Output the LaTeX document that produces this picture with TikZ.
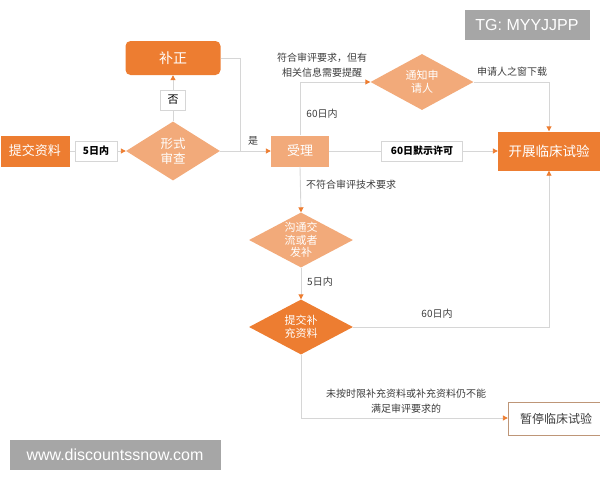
\documentclass[tikz,border=0pt]{standalone}
\usepackage{fontspec}
\newfontfamily\cjk{Noto Sans CJK SC}
\newfontfamily\wmfont{Liberation Sans}
\usetikzlibrary{arrows.meta,shapes.geometric}
\definecolor{darkor}{RGB}{237,125,49}
\definecolor{lightor}{RGB}{242,170,122}
\definecolor{linegray}{RGB}{214,214,214}
\definecolor{txtgray}{RGB}{60,60,60}
\definecolor{wmgray}{RGB}{166,166,166}
\definecolor{brownedge}{RGB}{190,150,120}
\tikzset{
  darkbox/.style={rectangle,fill=darkor,text=white,inner sep=0pt,font=\cjk\fontsize{13}{15}\selectfont},
  lightbox/.style={rectangle,fill=lightor,text=white,inner sep=0pt,font=\cjk\fontsize{13}{15}\selectfont},
  dia/.style={diamond,inner sep=0pt,aspect=1.8,text=white,align=center,font=\cjk\fontsize{11}{13.5}\selectfont},
  tagbox/.style={rectangle,draw=linegray,fill=white,inner sep=0pt,text=black,font=\cjk\bfseries\fontsize{10}{12}\selectfont},
  lbl/.style={inner sep=0pt,text=txtgray,align=center,font=\cjk\fontsize{10}{15}\selectfont},
  wmbox/.style={rectangle,fill=wmgray,text=white,inner sep=0pt,font=\wmfont\fontsize{16}{18}\selectfont},
  line/.style={draw=linegray,line width=0.9pt},
  arrowline/.style={line,-{Triangle[length=5pt,width=5pt,color=darkor]}}
}
\begin{document}
\begin{tikzpicture}[x=1pt,y=1pt,yscale=-1,xscale=1]
\useasboundingbox (0,0) rectangle (600,480);

%Shape: Rectangle [id:tijiao]
\node [darkbox,minimum width=69pt,minimum height=31pt] (tijiao) at (35,151) {提交资料};
% Text Node
\node [tagbox,minimum width=42pt,minimum height=20pt] (wuri) at (96,151) {5日内};
%Shape: Diamond [id:xingshi]
\node [dia,fill=lightor,minimum width=94pt,minimum height=59pt,font=\cjk\fontsize{12.5}{15}\selectfont] (xingshi) at (173,151) {形式\\审查};
% Text Node
\node [tagbox,minimum width=25pt,minimum height=20pt,font=\cjk\fontsize{11}{13}\selectfont] (fou) at (173,100) {否};
%Shape: Rounded Rect [id:buzheng]
\node [darkbox,rounded corners=5pt,minimum width=95pt,minimum height=34pt,font=\cjk\fontsize{14}{16}\selectfont] (buzheng) at (173,58) {补正};
%Shape: Rectangle [id:shouli]
\node [lightbox,minimum width=58pt,minimum height=31pt] (shouli) at (300,151) {受理};
% Text Node
\node [tagbox,minimum width=81pt,minimum height=20pt] (moshi) at (422,151) {60日默示许可};
%Shape: Rectangle [id:kaizhan]
\node [darkbox,minimum width=102pt,minimum height=39pt,font=\cjk\fontsize{13.5}{16}\selectfont] (kaizhan) at (549,151) {开展临床试验};
%Shape: Diamond [id:tongzhi]
\node [dia,fill=lightor,minimum width=103pt,minimum height=56pt] (tongzhi) at (422,82) {通知申\\请人};
%Shape: Diamond [id:goutong]
\node [dia,fill=lightor,minimum width=104pt,minimum height=55pt,font=\cjk\fontsize{11}{12.5}\selectfont] (goutong) at (301,240) {沟通交\\流或者\\发补};
%Shape: Diamond [id:buchong]
\node [dia,fill=darkor,minimum width=104pt,minimum height=55pt] (buchong) at (301,327) {提交补\\充资料};
%Shape: Rectangle [id:zanting]
\node [rectangle,draw=brownedge,fill=white,minimum width=96pt,minimum height=33pt,inner sep=0pt,text=txtgray,font=\cjk\fontsize{12}{14}\selectfont] (zanting) at (556,419) {暂停临床试验};

%Straight Lines
\coordinate (hui) at (240,151);
\coordinate (di) at (301,418);
\draw [line] (tijiao.east) -- (wuri.west);
\draw [arrowline] (wuri.east) -- (xingshi.west);
\draw [line] (xingshi.north) -- (fou.south);
\draw [arrowline] (fou.north) -- (buzheng.south);
\draw [line] (buzheng.east) -| (hui);
\draw [arrowline] (xingshi.east) -- (shouli.west);
\draw [line] (shouli.east) -- (moshi.west);
\draw [arrowline] (moshi.east) -- (kaizhan.west);
\draw [arrowline] (shouli.north) |- (tongzhi.west);
\draw [arrowline] (tongzhi.east) -| (kaizhan.north);
\draw [arrowline] (shouli.south) -- (goutong.north);
\draw [arrowline] (goutong.south) -- (buchong.north);
\draw [arrowline] (buchong.east) -| (kaizhan.south);
\draw [line] (buchong.south) -- (di);
\draw [arrowline] (di) -- (zanting.west |- di);

% Text Node
\node [lbl] (shi) at (253,141) {是};
% Text Node
\node [lbl] (fuhe) at (322,65) {符合审评要求，但有\\相关信息需要提醒};
% Text Node
\node [lbl] (liushi) at (322,114) {60日内};
% Text Node
\node [lbl] (chuang) at (512,72) {申请人之窗下载};
% Text Node
\node [lbl,anchor=west] (bufu) at (306,185) {不符合审评技术要求};
% Text Node
\node [lbl,anchor=west] (wurinei) at (307,282) {5日内};
% Text Node
\node [lbl] (liushier) at (437,314) {60日内};
% Text Node
\node [lbl] (weian) at (406,401) {未按时限补充资料或补充资料仍不能\\满足审评要求的};

% Watermarks
\node [wmbox,minimum width=125pt,minimum height=30pt] (tg) at (527,25) {TG: MYYJJPP};
\node [wmbox,minimum width=211pt,minimum height=30pt] (www) at (115,455) {www.discountssnow.com};

\end{tikzpicture}
\end{document}
